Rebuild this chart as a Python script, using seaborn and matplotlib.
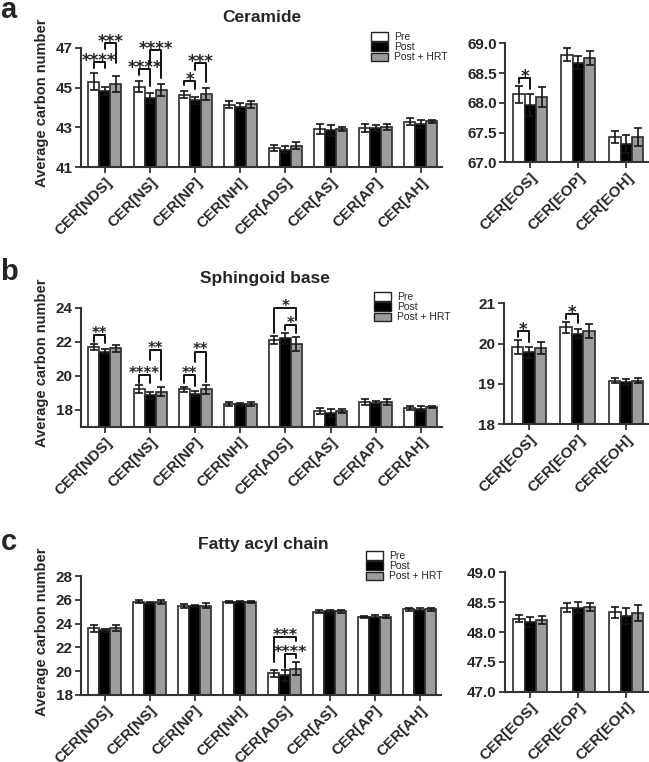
import numpy as np
import pandas as pd
import matplotlib
matplotlib.use("Agg")
import matplotlib.pyplot as plt
import seaborn as sns
from matplotlib.patches import Patch
from matplotlib.ticker import FormatStrFormatter

# --- data ---
groups = ["Pre", "Post", "Post + HRT"]
cer_main = ["CER[NDS]", "CER[NS]", "CER[NP]", "CER[NH]",
            "CER[ADS]", "CER[AS]", "CER[AP]", "CER[AH]"]
cer_eo = ["CER[EOS]", "CER[EOP]", "CER[EOH]"]

# Ceramide
cera_pre = [45.29, 45.05, 44.65, 44.15, 41.97, 42.92, 42.97, 43.28]
cera_post = [44.82, 44.47, 44.37, 44.05, 41.88, 42.86, 42.97, 43.19]
cera_hrt = [45.17, 44.87, 44.68, 44.16, 42.08, 42.92, 43.04, 43.31]
cera_pre_err = [0.42, 0.29, 0.19, 0.17, 0.13, 0.25, 0.22, 0.17]
cera_post_err = [0.20, 0.26, 0.17, 0.16, 0.17, 0.27, 0.17, 0.20]
cera_hrt_err = [0.40, 0.30, 0.30, 0.18, 0.18, 0.08, 0.15, 0.08]

cera_eo_pre = [68.14, 68.81, 67.43]
cera_eo_post = [67.96, 68.67, 67.31]
cera_eo_hrt = [68.10, 68.75, 67.43]
cera_eo_pre_err = [0.15, 0.11, 0.10]
cera_eo_post_err = [0.19, 0.11, 0.15]
cera_eo_hrt_err = [0.17, 0.12, 0.15]

# Sphingoid base
sph_pre = [21.69, 19.22, 19.20, 18.33, 22.08, 17.90, 18.43, 18.12]
sph_post = [21.41, 18.84, 18.94, 18.31, 22.20, 17.82, 18.37, 18.06]
sph_hrt = [21.61, 19.06, 19.20, 18.35, 21.86, 17.90, 18.45, 18.14]
sph_pre_err = [0.19, 0.21, 0.13, 0.10, 0.23, 0.18, 0.18, 0.12]
sph_post_err = [0.16, 0.21, 0.15, 0.10, 0.31, 0.22, 0.16, 0.14]
sph_hrt_err = [0.21, 0.25, 0.25, 0.12, 0.39, 0.12, 0.20, 0.06]

sph_eo_pre = [19.92, 20.40, 19.08]
sph_eo_post = [19.78, 20.24, 19.04]
sph_eo_hrt = [19.90, 20.31, 19.08]
sph_eo_pre_err = [0.17, 0.14, 0.07]
sph_eo_post_err = [0.14, 0.11, 0.08]
sph_eo_hrt_err = [0.15, 0.17, 0.07]

# Fatty acyl chain
fa_pre = [23.60, 25.84, 25.48, 25.84, 19.82, 25.00, 24.53, 25.20]
fa_post = [23.43, 25.70, 25.48, 25.79, 19.65, 25.03, 24.58, 25.17]
fa_hrt = [23.60, 25.82, 25.51, 25.84, 20.21, 25.03, 24.58, 25.20]
fa_pre_err = [0.30, 0.12, 0.18, 0.10, 0.32, 0.12, 0.10, 0.10]
fa_post_err = [0.10, 0.08, 0.08, 0.08, 0.45, 0.10, 0.15, 0.10]
fa_hrt_err = [0.25, 0.14, 0.20, 0.10, 0.55, 0.10, 0.14, 0.10]

fa_eo_pre = [48.22, 48.41, 48.33]
fa_eo_post = [48.17, 48.41, 48.27]
fa_eo_hrt = [48.20, 48.42, 48.32]
fa_eo_pre_err = [0.06, 0.07, 0.09]
fa_eo_post_err = [0.08, 0.10, 0.13]
fa_eo_hrt_err = [0.06, 0.07, 0.13]

# significance brackets: (category, group a, group b, bracket top, leg end a, leg end b, label)
cera_sig = [(0, 0, 1, 46.29, 46.00, 46.00, "****"),
            (0, 1, 2, 47.25, 46.95, 46.23, "***"),
            (1, 0, 1, 45.91, 45.62, 45.07, "****"),
            (1, 1, 2, 46.88, 46.20, 45.48, "****"),
            (2, 0, 1, 45.33, 45.12, 44.95, "*"),
            (2, 1, 2, 46.21, 45.90, 45.29, "***")]
cera_eo_sig = [(0, 0, 1, 68.42, 68.34, 68.23, "*")]
sph_sig = [(0, 0, 1, 22.39, 22.00, 21.90, "**"),
           (1, 0, 1, 20.04, 19.60, 19.55, "****"),
           (1, 1, 2, 21.51, 20.90, 19.75, "**"),
           (2, 0, 1, 20.04, 19.60, 19.41, "**"),
           (2, 1, 2, 21.41, 20.82, 19.65, "**"),
           (4, 0, 2, 23.96, 22.49, 23.27, "*"),
           (4, 1, 2, 22.98, 22.69, 22.49, "*")]
sph_eo_sig = [(0, 0, 1, 20.30, 20.17, 20.05, "*"),
              (1, 0, 1, 20.73, 20.61, 20.50, "*")]
fa_sig = [(4, 0, 2, 22.90, 20.80, 22.57, "***"),
          (4, 1, 2, 21.45, 20.24, 21.08, "****")]
fa_eo_sig = []

colors = {"Pre": "#ffffff", "Post": "#000000", "Post + HRT": "#9c9c9c"}
EDGE = "#2b2b2b"

sns.set_style("ticks")
plt.rcParams["font.family"] = ["Liberation Sans", "DejaVu Sans"]

W, H = 649, 762
fig = plt.figure(figsize=(W / 100, H / 100), dpi=100)


def box(left, right, top, bottom):
    return [left / W, 1 - bottom / H, (right - left) / W, (bottom - top) / H]


def draw_panel(ax, cats, vals, errs, ylim, yticks, fmt, sig, width, star_size):
    df = pd.DataFrame({
        "cer": cats * 3,
        "group": [g for g in groups for _ in cats],
        "value": vals[0] + vals[1] + vals[2],
    })
    sns.barplot(data=df, x="cer", y="value", hue="group", order=cats,
                hue_order=groups, palette=colors, saturation=1, width=width,
                edgecolor=EDGE, linewidth=1.2, errorbar=None, legend=False,
                ax=ax, zorder=2)
    centers = []
    for cont, err in zip(ax.containers, errs):
        xs = [b.get_x() + b.get_width() / 2 for b in cont]
        hs = [b.get_height() for b in cont]
        ax.errorbar(xs, hs, yerr=err, fmt="none", ecolor="#151515",
                    elinewidth=1.2, capsize=3.2, capthick=1.2, zorder=3)
        centers.append(xs)

    # stars drawn in DejaVu Sans, whose asterisk is closer to the original
    for cat, a, b, top, la, lb, lab in sig:
        xa, xb = centers[a][cat], centers[b][cat]
        ax.plot([xa, xa, xb, xb], [la, top, top, lb], color="#111111",
                lw=1.4, clip_on=False, zorder=4)
        ax.annotate(lab, xy=((xa + xb) / 2, top),
                    xytext=(0, -(0.59 * star_size - 4.3)),
                    textcoords="offset points", ha="center", va="baseline",
                    fontsize=star_size, fontweight="bold",
                    family="DejaVu Sans", annotation_clip=False)

    ax.set_ylim(*ylim)
    ax.set_xlim(-0.53, len(cats) - 0.53)
    ax.set_yticks(yticks)
    if fmt:
        ax.yaxis.set_major_formatter(FormatStrFormatter(fmt))
    ax.set_xticks(range(len(cats)))
    ax.set_xticklabels(cats, rotation=45, ha="right", rotation_mode="anchor",
                       fontsize=11, fontweight="bold")
    for t in ax.get_yticklabels():
        t.set_fontweight("bold")
        t.set_fontsize(11)
    ax.set_xlabel("")
    ax.set_ylabel("")
    ax.tick_params(axis="both", direction="out", length=4, width=1.3,
                   color="#333333", pad=2)
    sns.despine(ax=ax)
    for s in ("left", "bottom"):
        ax.spines[s].set_linewidth(1.5)
        ax.spines[s].set_color("#333333")


# --- panel a: Ceramide ---
ax = fig.add_axes(box(81, 442, 47.7, 167.3))
draw_panel(ax, cer_main, [cera_pre, cera_post, cera_hrt],
           [cera_pre_err, cera_post_err, cera_hrt_err],
           (41, 47), [41, 43, 45, 47], None, cera_sig, 0.73, 12)
ax = fig.add_axes(box(505, 649, 43.3, 162.3))
draw_panel(ax, cer_eo, [cera_eo_pre, cera_eo_post, cera_eo_hrt],
           [cera_eo_pre_err, cera_eo_post_err, cera_eo_hrt_err],
           (67, 69), [67, 67.5, 68, 68.5, 69], "%.1f", cera_eo_sig, 0.71, 12)

# --- panel b: Sphingoid base ---
ax = fig.add_axes(box(81, 442, 307.7, 426.7))
draw_panel(ax, cer_main, [sph_pre, sph_post, sph_hrt],
           [sph_pre_err, sph_post_err, sph_hrt_err],
           (17, 24), [18, 20, 22, 24], None, sph_sig, 0.73, 10.5)
ax = fig.add_axes(box(503.5, 649, 303.3, 424))
draw_panel(ax, cer_eo, [sph_eo_pre, sph_eo_post, sph_eo_hrt],
           [sph_eo_pre_err, sph_eo_post_err, sph_eo_hrt_err],
           (18, 21), [18, 19, 20, 21], None, sph_eo_sig, 0.71, 12)

# --- panel c: Fatty acyl chain ---
ax = fig.add_axes(box(81, 441, 576, 695))
draw_panel(ax, cer_main, [fa_pre, fa_post, fa_hrt],
           [fa_pre_err, fa_post_err, fa_hrt_err],
           (18, 28), [18, 20, 22, 24, 26, 28], None, fa_sig, 0.73, 11.5)
ax = fig.add_axes(box(505, 649, 572.3, 691.7))
draw_panel(ax, cer_eo, [fa_eo_pre, fa_eo_post, fa_eo_hrt],
           [fa_eo_pre_err, fa_eo_post_err, fa_eo_hrt_err],
           (47, 49), [47, 47.5, 48, 48.5, 49], "%.1f", fa_eo_sig, 0.71, 11.5)

# titles, panel letters, y labels, legends
for title, tx, ty in [("Ceramide", 262, 17), ("Sphingoid base", 265, 278),
                      ("Fatty acyl chain", 263, 545)]:
    fig.text(tx / W, 1 - ty / H, title, ha="center", va="center",
             fontsize=12.5, fontweight="bold")
for letter, ly in [("a", 18), ("b", 280), ("c", 550)]:
    fig.text(0.5 / W, 1 - ly / H, letter, ha="left", va="baseline",
             fontsize=21, fontweight="bold")
for cy in [103, 363, 632]:
    fig.text(42 / W, 1 - cy / H, "Average carbon number", rotation=90,
             ha="center", va="center", fontsize=10.5, fontweight="bold")

handles = [Patch(facecolor=colors[g], edgecolor="#222222", linewidth=1.0)
           for g in groups]
for lx, ly in [(371, 32), (374, 292), (366, 551)]:
    fig.legend(handles, groups, loc="upper left",
               bbox_to_anchor=(lx / W, 1 - ly / H), frameon=False,
               fontsize=7.5, handlelength=1.6, handleheight=0.85,
               labelspacing=0.02, handletextpad=0.6, borderpad=0,
               borderaxespad=0)

fig.savefig("out.png", dpi=100)
